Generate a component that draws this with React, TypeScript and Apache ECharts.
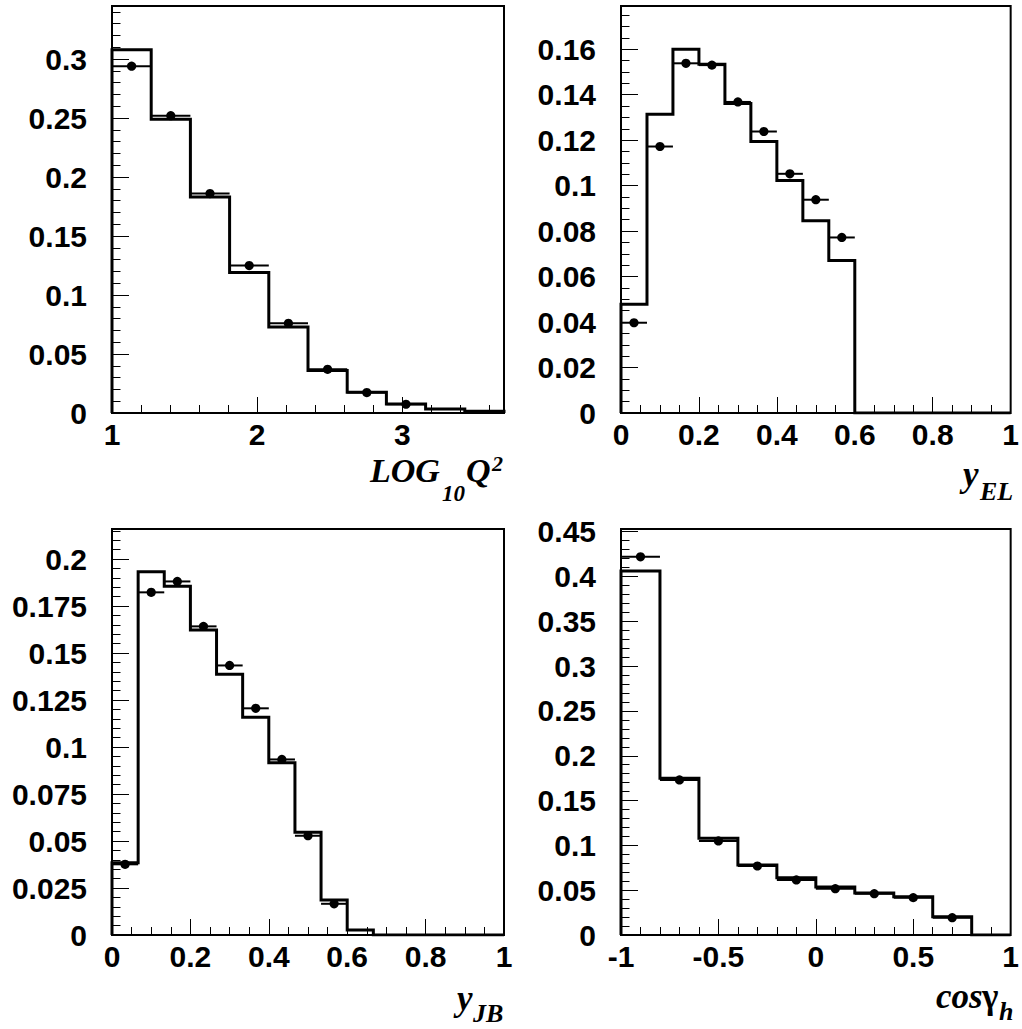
import React, { useEffect, useRef } from "react";
import * as echarts from "echarts";

// ---------- data ----------
const q2Edges = [1.0, 1.27, 1.54, 1.81, 2.08, 2.35, 2.62, 2.89, 3.16, 3.43, 3.7];
const q2Mc = [0.308, 0.249, 0.183, 0.119, 0.073, 0.036, 0.0175, 0.0076, 0.0034, 0.0014];
const q2Data = [0.294, 0.252, 0.186, 0.125, 0.076, 0.037, 0.0173, 0.0074, null, null];

const yEdges = [0, 0.0667, 0.1333, 0.2, 0.2667, 0.3333, 0.4, 0.4667, 0.5333, 0.6, 0.6667, 0.7333, 0.8, 0.8667, 0.9333, 1.0];
const yElMc = [0.0478, 0.1314, 0.16, 0.1534, 0.1361, 0.1194, 0.1023, 0.0845, 0.0671, 0, 0, 0, 0, 0, 0];
const yElData = [0.0397, 0.1172, 0.1538, 0.153, 0.1368, 0.1238, 0.1052, 0.0938, 0.0772, null, null, null, null, null, null];

const yJbMc = [0.0385, 0.1933, 0.1855, 0.1622, 0.1387, 0.1158, 0.0917, 0.0546, 0.0186, 0.0027, 0, 0, 0, 0, 0];
const yJbData = [0.0376, 0.1823, 0.1881, 0.1642, 0.1434, 0.1206, 0.0934, 0.0528, 0.0166, null, null, null, null, null, null];

const cosEdges = [-1.0, -0.8, -0.6, -0.4, -0.2, 0, 0.2, 0.4, 0.6, 0.8, 1.0];
const cosMc = [0.406, 0.175, 0.108, 0.078, 0.064, 0.0536, 0.0469, 0.0428, 0.0205, 0];
const cosData = [0.422, 0.173, 0.105, 0.077, 0.0614, 0.0517, 0.0461, 0.0417, 0.0193, null];

// ---------- helpers ----------
function histLine(edges: number[], vals: number[]) {
  const pts: number[][] = [[edges[0], 0]];
  for (let i = 0; i < vals.length; i++) pts.push([edges[i], vals[i]]);
  pts.push([edges[vals.length], vals[vals.length - 1]]);
  pts.push([edges[vals.length], 0]);
  return pts;
}
function dataPts(edges: number[], vals: (number | null)[]) {
  const out: number[][] = [];
  vals.forEach((v, i) => {
    if (v != null) out.push([edges[i], edges[i + 1], v]);
  });
  return out;
}
const isMult = (v: number, step: number) => Math.abs(v / step - Math.round(v / step)) < 1e-6;
const fmt = (v: number) => String(+v.toFixed(4));

const panels = [
  { left: 112, top: 6, width: 392, height: 407, xMin: 1, xMax: 3.7, xMajor: 1, xMinor: 0.2, yMax: 0.345, yMajor: 0.05, yMinor: 0.01, edges: q2Edges, mc: q2Mc, data: q2Data },
  { left: 621, top: 6, width: 390, height: 407, xMin: 0, xMax: 1, xMajor: 0.2, xMinor: 0.05, yMax: 0.179, yMajor: 0.02, yMinor: 0.005, edges: yEdges, mc: yElMc, data: yElData },
  { left: 112, top: 529, width: 392, height: 406, xMin: 0, xMax: 1, xMajor: 0.2, xMinor: 0.05, yMax: 0.216, yMajor: 0.025, yMinor: 0.005, edges: yEdges, mc: yJbMc, data: yJbData },
  { left: 621, top: 529, width: 390, height: 406, xMin: -1, xMax: 1, xMajor: 0.5, xMinor: 0.1, yMax: 0.453, yMajor: 0.05, yMinor: 0.01, edges: cosEdges, mc: cosMc, data: cosData },
];

const LABEL_FONT = "Liberation Sans";
const TITLE_FONT = "Liberation Serif";

function txt(text: string, x: number, y: number, size: number, italic = true) {
  return {
    type: "text",
    x,
    y,
    silent: true,
    style: {
      text,
      fill: "#000",
      fontSize: size,
      fontWeight: "bold",
      fontStyle: italic ? "italic" : "normal",
      fontFamily: TITLE_FONT,
      lineHeight: Math.round(size * 0.85),
      align: "left",
      verticalAlign: "middle",
      textAlign: "left",
      textVerticalAlign: "middle",
    },
  };
}

function buildOption() {
  const grid: any[] = [];
  const xAxis: any[] = [];
  const yAxis: any[] = [];
  const series: any[] = [];

  panels.forEach((p, i) => {
    grid.push({
      left: p.left,
      top: p.top,
      width: p.width,
      height: p.height,
      show: true,
      borderColor: "#000",
      borderWidth: 2,
      backgroundColor: "transparent",
    });
    const common = {
      type: "value",
      gridIndex: i,
      splitLine: { show: false },
      axisLine: { show: false, onZero: false },
    };
    xAxis.push({
      ...common,
      position: "bottom",
      min: p.xMin,
      max: p.xMax,
      interval: p.xMajor,
      axisTick: { show: true, inside: true, length: 16, lineStyle: { color: "#000", width: 1 } },
      axisLabel: {
        show: true,
        margin: 6,
        fontSize: 30,
        fontWeight: "bold",
        fontFamily: LABEL_FONT,
        color: "#000",
        formatter: (v: number) => (isMult(v, p.xMajor) ? fmt(v) : ""),
      },
    });
    xAxis.push({
      ...common,
      position: "bottom",
      min: p.xMin,
      max: p.xMax,
      interval: p.xMinor,
      axisTick: { show: true, inside: true, length: 8, lineStyle: { color: "#000", width: 1 } },
      axisLabel: { show: false },
    });
    yAxis.push({
      ...common,
      position: "left",
      min: 0,
      max: p.yMax,
      interval: p.yMajor,
      axisTick: { show: true, inside: true, length: 17, lineStyle: { color: "#000", width: 1 } },
      axisLabel: {
        show: true,
        margin: 25,
        fontSize: 30,
        fontWeight: "bold",
        fontFamily: LABEL_FONT,
        color: "#000",
        formatter: (v: number) => (isMult(v, p.yMajor) ? fmt(v) : ""),
      },
    });
    yAxis.push({
      ...common,
      position: "left",
      min: 0,
      max: p.yMax,
      interval: p.yMinor,
      axisTick: { show: true, inside: true, length: 8.5, lineStyle: { color: "#000", width: 1 } },
      axisLabel: { show: false },
    });

    series.push({
      type: "line",
      xAxisIndex: 2 * i,
      yAxisIndex: 2 * i,
      data: histLine(p.edges, p.mc),
      step: "end",
      showSymbol: false,
      symbol: "none",
      clip: true,
      z: 2,
      lineStyle: { color: "#000", width: 3, join: "miter", cap: "butt" },
    });
    series.push({
      type: "custom",
      xAxisIndex: 2 * i,
      yAxisIndex: 2 * i,
      data: dataPts(p.edges, p.data),
      encode: { x: [0, 1], y: 2 },
      z: 3,
      renderItem: (params: any, api: any) => {
        const a = api.coord([api.value(0), api.value(2)]);
        const b = api.coord([api.value(1), api.value(2)]);
        return {
          type: "group",
          children: [
            { type: "line", shape: { x1: a[0], y1: a[1], x2: b[0], y2: b[1] }, style: { stroke: "#000", lineWidth: 2 } },
            { type: "circle", shape: { cx: (a[0] + b[0]) / 2, cy: a[1], r: 4.6 }, style: { fill: "#000" } },
          ],
        };
      },
    });
  });

  const graphic = [
    // LOG10Q2
    txt("LOG", 370, 470, 34),
    txt("10", 442, 493, 23),
    txt("Q", 466, 470, 34),
    txt("2", 492, 463, 22),
    // y_EL
    txt("y", 963, 474.2, 35),
    txt("EL", 980, 491.9, 26),
    // y_JB
    txt("y", 457, 998.2, 35),
    txt("JB", 473, 1013.2, 26),
    // cos gamma_h
    txt("cos", 936, 996.2, 35),
    txt("γ", 982, 996.2, 35, false),
    txt("h", 999, 1011.2, 26),
  ];

  return { animation: false, backgroundColor: "#fff", grid, xAxis, yAxis, series, graphic };
}

export default function App() {
  const ref = useRef<HTMLDivElement>(null);
  useEffect(() => {
    document.body.style.margin = "0";
    if (!ref.current) return;
    const chart = echarts.init(ref.current, undefined, { renderer: "svg" });
    chart.setOption(buildOption() as any);
    return () => chart.dispose();
  }, []);
  return <div ref={ref} style={{ width: 1022, height: 1029 }} />;
}
